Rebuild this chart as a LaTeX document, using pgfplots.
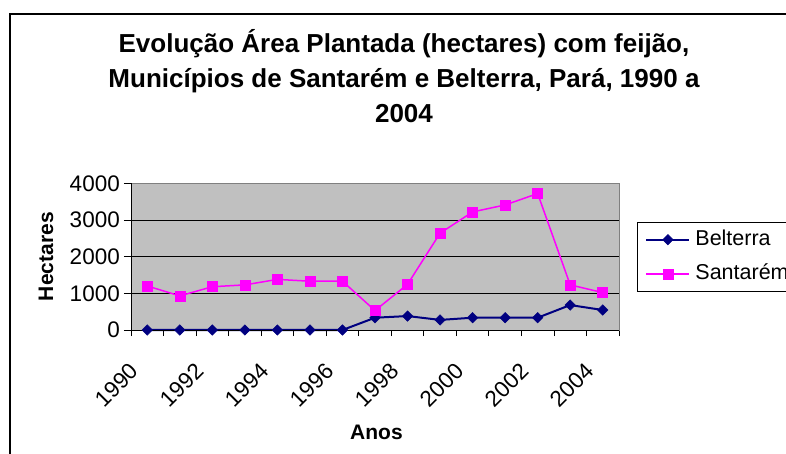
\documentclass[border=0pt]{standalone}
\usepackage{fontspec}
\setmainfont{Liberation Sans}
\usepackage{pgfplots}
\pgfplotsset{compat=1.18}
\definecolor{plotgray}{RGB}{192,192,192}
\definecolor{navyblue}{RGB}{0,0,128}
\definecolor{mag}{RGB}{255,0,255}
\newcommand{\tickfont}{\fontsize{22.5bp}{26bp}\selectfont}
\begin{document}
\begin{tikzpicture}
\useasboundingbox (0,0) rectangle (786bp,454bp);
\clip (0,0) rectangle (786bp,454bp);
% chart frame (cut at right and bottom)
\draw[line width=1.2bp] (10bp,-5bp) -- (10bp,440bp) -- (800bp,440bp);
% title
\begin{scope}[every node/.style={anchor=base, inner sep=0pt, font=\fontsize{26bp}{31bp}\selectfont\bfseries}]
\node at (404bp,401.5bp) {Evolução Área Plantada (hectares) com feijão,};
\node at (404bp,366.4bp) {Municípios de Santarém e Belterra, Pará, 1990 a};
\node at (404bp,331.3bp) {2004};
\end{scope}
\begin{axis}[
  at={(131bp,124bp)}, anchor=south west,
  width=488bp, height=146.7bp, scale only axis,
  xmin=-0.5, xmax=14.5, ymin=0, ymax=4000,
  xtick={0,2,...,14},
  xticklabels={1990,1992,1994,1996,1998,2000,2002,2004},
  minor xtick={-0.5,0.5,...,14.5},
  ytick={0,1000,...,4000},
  xtick pos=bottom, ytick pos=left,
  tick align=outside,
  major tick length=7bp, minor tick length=6bp,
  major x tick style={draw=none},
  tick style={black, line width=0.8bp},
  axis line style={draw=gray, line width=1bp},
  axis background/.style={fill=plotgray},
  ymajorgrids, grid style={black, line width=0.9bp},
  /pgf/number format/assume math mode=true,
  /pgf/number format/1000 sep={},
  yticklabel style={font=\tickfont, inner sep=0pt, xshift=-4bp},
  xticklabel style={font=\tickfont, inner sep=0pt, xshift=-12.8bp, yshift=-30bp, rotate=45, anchor=east},
  xlabel={Anos}, ylabel={Hectares},
  label style={font=\fontsize{21bp}{25bp}\selectfont\bfseries},
  xlabel style={at={(axis description cs:0.503,-0.699)}, anchor=center, inner sep=0pt},
  ylabel style={at={(axis description cs:-0.174,0.5)}, anchor=center, inner sep=0pt, rotate=0},
  clip=false,
  legend style={at={(1.0369,0.736)}, anchor=north west, draw=black, line width=0.8bp,
    font=\fontsize{21.5bp}{25bp}\selectfont, inner xsep=8bp, inner ysep=6.3bp,
    row sep=12.4bp, column sep=4bp,
    nodes={inner sep=1bp, text height=15.5bp, text depth=4.5bp}},
  legend cell align=left,
  legend image code/.code={\draw[mark repeat=2, mark phase=2] plot coordinates {(0bp,0bp) (21.5bp,0bp) (43bp,0bp)};},
]
\addplot[navyblue, line width=2bp, mark=square*, mark size=3.7bp, mark options={rotate=45, solid, fill=navyblue, line width=0.5bp}]
  coordinates {(0,0) (1,0) (2,0) (3,0) (4,0) (5,0) (6,0) (7,335) (8,380) (9,275) (10,335) (11,335) (12,335) (13,680) (14,545)};
\addlegendentry{Belterra}
\addplot[mag, line width=1.5bp, mark=square*, mark size=5bp, mark options={solid, fill=mag, line width=0.5bp}]
  coordinates {(0,1200) (1,930) (2,1180) (3,1230) (4,1380) (5,1330) (6,1330) (7,530) (8,1245) (9,2640) (10,3220) (11,3410) (12,3720) (13,1230) (14,1020)};
\addlegendentry{Santarém\hspace*{30bp}}
\draw[black, line width=1bp] (rel axis cs:0,1) -- (rel axis cs:0,0) -- (rel axis cs:1,0);
\end{axis}
\end{tikzpicture}
\end{document}
